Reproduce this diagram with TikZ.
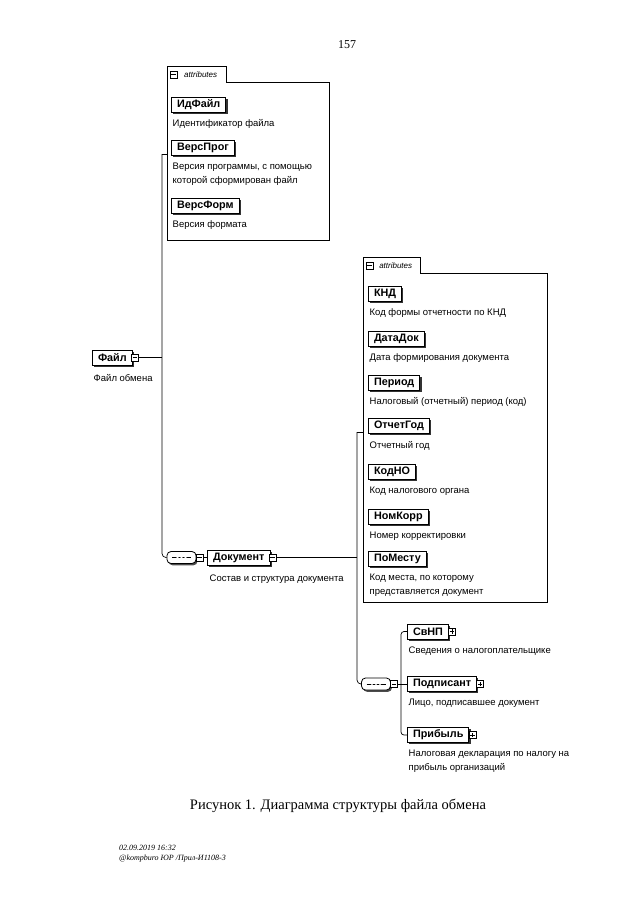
\documentclass[tikz,border=0pt]{standalone}
\usepackage{fontspec}
\setmainfont{Liberation Serif}
\newfontfamily\arialfont{Liberation Sans}
\usetikzlibrary{shadows}

\tikzset{
  elem/.style={draw, fill=white, line width=1pt, anchor=west,
    font=\arialfont\bfseries\fontsize{10.8}{12}\selectfont,
    inner xsep=5.5pt, inner ysep=0pt, minimum height=15pt,
    drop shadow={shadow xshift=1.8pt, shadow yshift=-1.8pt, opacity=1, fill=black!80}},
  desc/.style={anchor=north west, inner sep=0pt, align=left,
    font=\arialfont\fontsize{9.5}{14}\selectfont},
  group/.style={anchor=north west, inner sep=0pt},
  frame/.style={line width=0.9pt},
  tab/.style={anchor=south west, inner sep=0pt, minimum height=15pt,
    font=\arialfont\itshape\fontsize{8}{9}\selectfont},
  conn/.style={line width=0.7pt},
  togglebox/.style={draw, fill=white, line width=0.5pt, minimum size=7pt, inner sep=0pt},
  minusbox/.style={togglebox, path picture={
    \draw[line width=0.5pt] ([xshift=1.3pt]path picture bounding box.west) -- ([xshift=-1.3pt]path picture bounding box.east);}},
  plusbox/.style={togglebox, path picture={
    \draw[line width=0.5pt] ([xshift=1.3pt]path picture bounding box.west) -- ([xshift=-1.3pt]path picture bounding box.east);
    \draw[line width=0.5pt] ([yshift=1.3pt]path picture bounding box.south) -- ([yshift=-1.3pt]path picture bounding box.north);}},
  seq/.style={draw, fill=white, line width=0.8pt, rounded corners=4pt,
    minimum width=29pt, minimum height=12pt, inner sep=0pt,
    drop shadow={shadow xshift=1.5pt, shadow yshift=-1.8pt, opacity=1, fill=black!70},
    path picture={
      \draw[line width=0.6pt] ([xshift=5pt]path picture bounding box.west) -- ([xshift=-5pt]path picture bounding box.east);
      \foreach \d in {-4,0,4} \fill ([xshift=\d pt]path picture bounding box.center) circle (1.1pt);}}
}

\begin{document}
\begin{tikzpicture}[x=1pt, y=-1pt]
  \useasboundingbox (0,0) rectangle (640,905);

  \node[font=\fontsize{12}{14}\selectfont] (pagenum) at (347,45) {157};

  % attributes of the file
  \node[group, minimum width=162pt, minimum height=158pt] (attrA) at (167,82) {};
  \node[tab, minimum width=59pt] (tabA) at (attrA.north west) {\hspace*{8pt}attributes};
  \draw[frame] (attrA.south west) |- (tabA.north east) |- (attrA.north east) -- (attrA.south east) -- cycle;
  \node[minusbox] (tabAT) at ([xshift=6.5pt]tabA.west) {};

  \node[elem] (idfile) at (171,104.5) {ИдФайл};
  \node[desc] at ([xshift=1.5pt,yshift=-7pt]idfile.south west) {Идентификатор файла};
  \node[elem] (versprog) at (171,147.5) {ВерсПрог};
  \node[desc] at ([xshift=1.5pt,yshift=-7pt]versprog.south west) {Версия программы, с помощью\\которой сформирован файл};
  \node[elem] (versform) at (171,205.5) {ВерсФорм};
  \node[desc] at ([xshift=1.5pt,yshift=-7pt]versform.south west) {Версия формата};

  % root element
  \node[elem] (file) at (92,357.5) {Файл};
  \node[minusbox] (fileT) at ([xshift=2pt]file.east) {};
  \node[desc] at ([xshift=1.5pt,yshift=-9pt]file.south west) {Файл обмена};

  \node[seq] (seqA) at (181.5,557.5) {};
  \node[minusbox, anchor=west] (seqAT) at ([xshift=-0.5pt]seqA.east) {};

  \node[elem] (doc) at (207,557.5) {Документ};
  \node[minusbox] (docT) at ([xshift=2pt]doc.east) {};
  \node[desc] at ([xshift=2.5pt,yshift=-9pt]doc.south west) {Состав и структура документа};

  \coordinate (busA) at (162,154);
  \draw[conn] (attrA.west |- busA) -- (busA);
  \draw[conn, rounded corners=4pt] (busA) |- (seqA.west);
  \draw[conn] (fileT.east) -- (fileT.east -| busA);
  \draw[conn] (seqAT.east) -- (doc.west);

  % attributes of the document
  \node[group, minimum width=184pt, minimum height=329pt] (attrB) at (363,273) {};
  \node[tab, minimum width=57pt] (tabB) at (attrB.north west) {\hspace*{8pt}attributes};
  \draw[frame] (attrB.south west) |- (tabB.north east) |- (attrB.north east) -- (attrB.south east) -- cycle;
  \node[minusbox] (tabBT) at ([xshift=6.5pt]tabB.west) {};

  \node[elem] (knd) at (368,293.5) {КНД};
  \node[desc] at ([xshift=1.5pt,yshift=-7pt]knd.south west) {Код формы отчетности по КНД};
  \node[elem] (datadok) at (368,338.5) {ДатаДок};
  \node[desc] at ([xshift=1.5pt,yshift=-7pt]datadok.south west) {Дата формирования документа};
  \node[elem] (period) at (368,382.5) {Период};
  \node[desc] at ([xshift=1.5pt,yshift=-7pt]period.south west) {Налоговый (отчетный) период (код)};
  \node[elem] (otchgod) at (368,426) {ОтчетГод};
  \node[desc] at ([xshift=1.5pt,yshift=-7pt]otchgod.south west) {Отчетный год};
  \node[elem] (kodno) at (368,471.5) {КодНО};
  \node[desc] at ([xshift=1.5pt,yshift=-7pt]kodno.south west) {Код налогового органа};
  \node[elem] (nomkorr) at (368,516.5) {НомКорр};
  \node[desc] at ([xshift=1.5pt,yshift=-7pt]nomkorr.south west) {Номер корректировки};
  \node[elem] (pomestu) at (368,558.5) {ПоМесту};
  \node[desc] at ([xshift=1.5pt,yshift=-7pt]pomestu.south west) {Код места, по которому\\представляется документ};

  % children of the document
  \node[seq] (seqB) at (376,684) {};
  \node[minusbox, anchor=west] (seqBT) at ([xshift=-0.5pt]seqB.east) {};

  \node[elem] (svnp) at (407,631.5) {СвНП};
  \node[plusbox] (svnpT) at ([xshift=3pt]svnp.east) {};
  \node[desc] at ([xshift=1.5pt,yshift=-7pt]svnp.south west) {Сведения о налогоплательщике};
  \node[elem] (podpis) at (407,684) {Подписант};
  \node[plusbox] (podpisT) at ([xshift=3pt]podpis.east) {};
  \node[desc] at ([xshift=1.5pt,yshift=-7pt]podpis.south west) {Лицо, подписавшее документ};
  \node[elem] (pribyl) at (407,735) {Прибыль};
  \node[plusbox] (pribylT) at ([xshift=3pt]pribyl.east) {};
  \node[desc] at ([xshift=1.5pt,yshift=-7pt]pribyl.south west) {Налоговая декларация по налогу на\\прибыль организаций};

  \coordinate (busB) at (357,432);
  \coordinate (branch) at (401,684);
  \draw[conn] (attrB.west |- busB) -- (busB);
  \draw[conn, rounded corners=4pt] (busB) |- (seqB.west);
  \draw[conn] (docT.east) -- (docT.east -| busB);
  \draw[conn] (seqBT.east) -- (podpis.west);
  \draw[conn, rounded corners=3pt] (svnp.west) -| (branch) |- (pribyl.west);

  \node[font=\fontsize{14.5}{17}\selectfont] (caption) at (338,806) {Рисунок 1. Диаграмма структуры файла обмена};
  \node[anchor=north west, inner sep=0pt, align=left, font=\itshape\fontsize{8}{10}\selectfont] (stamp) at (119,845) {02.09.2019 16:32\\@kompburo ЮР /Прил-И1108-3};
\end{tikzpicture}
\end{document}
